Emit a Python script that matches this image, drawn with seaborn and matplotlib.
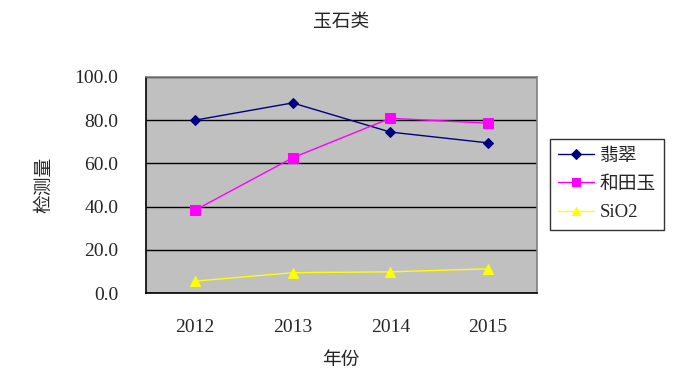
import matplotlib
matplotlib.use("Agg")
import matplotlib.pyplot as plt
import seaborn as sns
import pandas as pd

years = [2012, 2013, 2014, 2015]
jade_feicui = [80.0, 88.0, 74.5, 69.5]
jade_hetian = [38.3, 62.6, 80.9, 78.6]
sio2 = [5.5, 9.4, 9.8, 11.2]
series_names = ["翡翠", "和田玉", "SiO2"]
y_ticks = [0, 20, 40, 60, 80, 100]
title = "玉石类"
x_label = "年份"
y_label = "检测量"

df = pd.DataFrame({
    "year": years * 3,
    "value": jade_feicui + jade_hetian + sio2,
    "series": [series_names[0]] * 4 + [series_names[1]] * 4 + [series_names[2]] * 4,
})

sns.set_style("white")
plt.rcParams['font.family'] = ['Liberation Serif', 'Noto Sans CJK SC', 'DejaVu Sans']

fig = plt.figure(figsize=(7.0, 3.77), dpi=100)
ax = fig.add_axes([146 / 700, 1 - 293 / 377, (537 - 146) / 700, (293 - 77) / 377])
ax.set_facecolor("#C0C0C0")

palette = {series_names[0]: "#000080", series_names[1]: "#FF00FF", series_names[2]: "#FFFF00"}
markers = {series_names[0]: "D", series_names[1]: "s", series_names[2]: "^"}
sizes_ms = {series_names[0]: 5.5, series_names[1]: 6.5, series_names[2]: 7.5}

for name in series_names:
    sub = df[df["series"] == name]
    sns.lineplot(data=sub, x="year", y="value", color=palette[name], marker=markers[name],
                 markersize=sizes_ms[name], markeredgecolor=palette[name], linewidth=1.0,
                 ax=ax, label=name, zorder=3)

ax.set_xlim(2011.5, 2015.5)
ax.set_ylim(0, 100)
ax.set_yticks(y_ticks)
ax.set_yticklabels([f"{v:.1f}" for v in y_ticks], fontsize=14)
ax.set_xticks(years)
ax.set_xticklabels([str(y) for y in years], fontsize=14)
ax.set_xticks([2012.5, 2013.5, 2014.5], minor=True)
ax.tick_params(axis="x", which="major", length=0, pad=19)
ax.tick_params(axis="x", which="minor", length=5, direction="in", color="black", width=1)
ax.tick_params(axis="y", which="major", length=0, pad=20)
ax.yaxis.grid(True, color="black", linewidth=1.0)
ax.set_axisbelow(True)
ax.set_xlabel("")
ax.set_ylabel("")

for s in ["left", "bottom"]:
    ax.spines[s].set_color("black")
    ax.spines[s].set_linewidth(1.2)
for s in ["top", "right"]:
    ax.spines[s].set_color("#808080")
    ax.spines[s].set_linewidth(1.2)

fig.text(341 / 700, 1 - 22 / 377, title, ha="center", va="center", fontsize=13.5)
fig.text(341 / 700, 1 - 360 / 377, x_label, ha="center", va="center", fontsize=13.5)
fig.text(45 / 700, 1 - 185 / 377, y_label, ha="center", va="center", rotation=90, fontsize=13.5)

leg = ax.legend(loc="upper left", bbox_to_anchor=(550 / 700, 1 - 139 / 377),
                bbox_transform=fig.transFigure, frameon=True, fancybox=False,
                fontsize=13.5, handlelength=1.9, handletextpad=0.3, borderpad=0.45,
                labelspacing=0.6, borderaxespad=0, markerscale=0.85)
leg.get_frame().set_edgecolor("black")
leg.get_frame().set_linewidth(1.0)
leg.get_frame().set_facecolor("white")

fig.savefig("out.png", dpi=100, facecolor="white")
